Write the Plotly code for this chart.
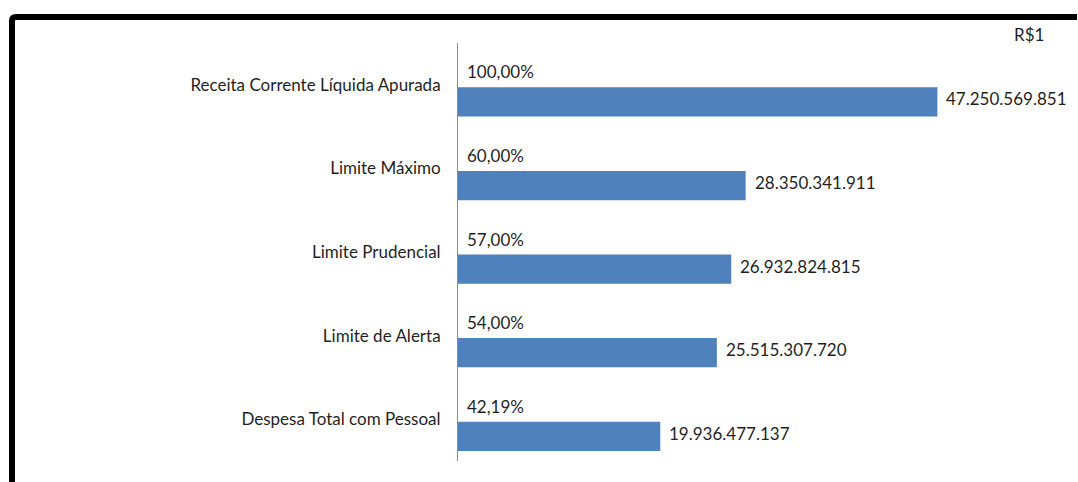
import plotly.graph_objects as go

# Data
categories = [
    "Receita Corrente Líquida Apurada",
    "Limite Máximo",
    "Limite Prudencial",
    "Limite de Alerta",
    "Despesa Total com Pessoal",
]
values = [47250569851, 28350341911, 26932824815, 25515307720, 19936477137]
percents = [100.00, 60.00, 57.00, 54.00, 42.19]
unit_label = "R$1"

# Layout geometry (pixels)
W, H = 1078, 482
ML, MR, MT, MB = 458, 62, 43, 21
PW, PH = W - ML - MR, H - MT - MB
XMAX = 55.0e9

FONT = "Lato"
FS = 17
TXT = "#1f1f1f"
BAR = "#4F81BD"


def fmt_int(v):
    return f"{v:,}".replace(",", ".")


def fmt_pct(p):
    return f"{p:.2f}".replace(".", ",") + "%"


def px_x(px):
    return (px - ML) / PW


def px_y(py):
    return 1 - (py - MT) / PH


fig = go.Figure()
fig.add_trace(go.Bar(
    y=categories,
    x=values,
    orientation="h",
    marker=dict(color=BAR, line=dict(width=0)),
    width=0.35,
    offset=0.03,
    hoverinfo="skip",
))

annotations = []
for cat, v, p in zip(categories, values, percents):
    # percentage above the bar, at the axis
    annotations.append(dict(
        x=0, y=cat, xref="x", yref="y", text=fmt_pct(p),
        showarrow=False, xanchor="left", yanchor="middle",
        xshift=7, yshift=13,
        font=dict(family=FONT, size=FS, color=TXT),
    ))
    # value to the right of the bar end
    annotations.append(dict(
        x=v, y=cat, xref="x", yref="y", text=fmt_int(v),
        showarrow=False, xanchor="left", yanchor="middle",
        xshift=7, yshift=-14,
        font=dict(family=FONT, size=FS, color=TXT),
    ))

annotations.append(dict(
    x=px_x(1046), y=px_y(35), xref="paper", yref="paper", text=unit_label,
    showarrow=False, xanchor="right", yanchor="middle",
    font=dict(family=FONT, size=FS, color=TXT),
))

# Frame around the chart (top and left edges)
r = 4
frame_path = (
    f"M {px_x(12)} {px_y(H + 5)} "
    f"L {px_x(12)} {px_y(17 + r)} "
    f"Q {px_x(12)} {px_y(17)} {px_x(12 + r)} {px_y(17)} "
    f"L {px_x(1077)} {px_y(17)}"
)

fig.update_layout(
    width=W, height=H,
    margin=dict(l=ML, r=MR, t=MT, b=MB, autoexpand=False),
    paper_bgcolor="white", plot_bgcolor="white",
    showlegend=False,
    bargap=0.3,
    xaxis=dict(range=[0, XMAX], visible=False, fixedrange=True),
    yaxis=dict(
        categoryorder="array", categoryarray=categories,
        autorange="reversed",
        showline=True, linecolor="#8c8c8c", linewidth=1,
        showgrid=False, zeroline=False,
        ticks="", ticklabelstandoff=13,
        tickfont=dict(family=FONT, size=FS, color=TXT),
        fixedrange=True,
    ),
    annotations=annotations,
    shapes=[dict(
        type="path", path=frame_path, xref="paper", yref="paper",
        line=dict(color="black", width=6), layer="above",
    )],
)

fig.write_html("out.html")
